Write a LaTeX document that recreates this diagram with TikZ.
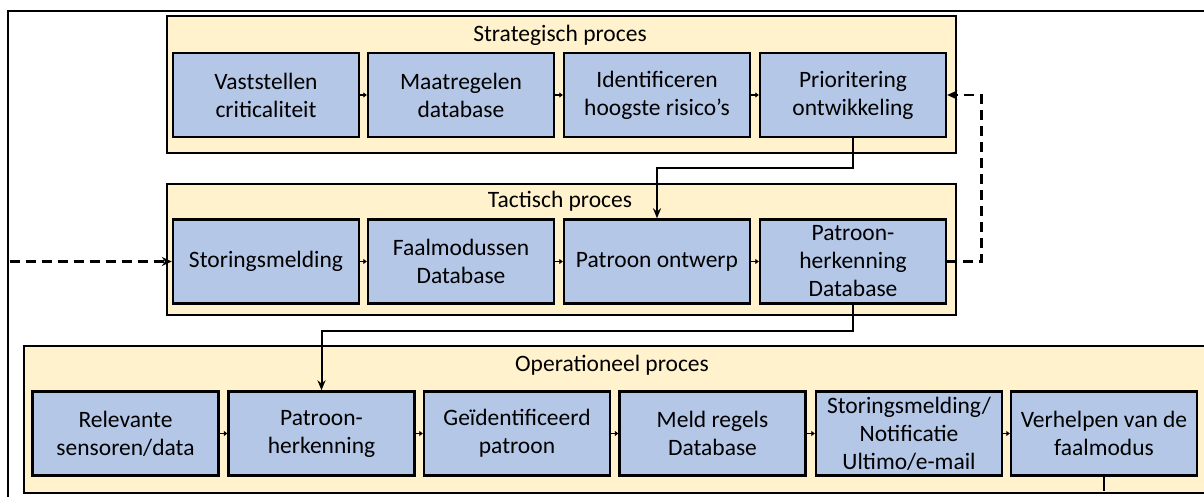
\documentclass[tikz,border=0pt]{standalone}
\usepackage{fontspec}
\setmainfont{Carlito}
\usetikzlibrary{arrows.meta}
\definecolor{contfill}{HTML}{FFF2CC}
\definecolor{boxfill}{HTML}{B4C7E7}
\begin{document}
\begin{tikzpicture}[x=1pt,y=-1pt,
  container/.style={draw=black, line width=2.4pt, fill=contfill, inner sep=0pt, anchor=north west},
  procbox/.style={draw=black, line width=2.4pt, fill=boxfill, inner sep=0pt, align=center,
    minimum width=186pt, minimum height=84pt, font=\fontsize{23.5}{28}\selectfont},
  titletext/.style={font=\fontsize{23.5}{28}\selectfont, inner sep=0pt},
  flow/.style={line width=1.2pt, -{Triangle[length=3.5pt,width=5pt]}},
  link/.style={line width=2pt, -{Stealth[length=10pt,width=8pt]}},
  dashlink/.style={line width=2.6pt, dash pattern=on 10pt off 6pt, -{Stealth[length=10pt,width=9pt]}},
  stub/.style={line width=2pt}
]
\useasboundingbox (0,0) rectangle (1204,496);
\clip (0,0) rectangle (1204,496);
\fill[white] (0,0) rectangle (1204,496);
% outer frame (cropped)
\coordinate (frameA) at (8,600);
\coordinate (frameB) at (8,11);
\coordinate (frameC) at (1300,11);
\draw[line width=1.3pt] (frameA) -- (frameB) -- (frameC);

% containers
\node[container, minimum width=789pt, minimum height=137pt] (strat) at (166,15) {};
\node[container, minimum width=789pt, minimum height=131pt] (tact) at (166,183) {};
\node[container, minimum width=1190pt, minimum height=147pt] (oper) at (23,345) {};

\node[titletext] (stratT) at (560,35) {Strategisch proces};
\node[titletext] (tactT) at (560,201) {Tactisch proces};
\node[titletext] (operT) at (612,365) {Operationeel proces};

% strategic boxes
\node[procbox] (s1) at (266,95) {Vaststellen\\criticaliteit};
\node[procbox] (s2) at (461,95) {Maatregelen\\database};
\node[procbox] (s3) at (657,95) {Identificeren\\hoogste risico’s};
\node[procbox] (s4) at (853,95) {Prioritering\\ontwikkeling};

% tactical boxes
\node[procbox] (t1) at (266,261.5) {Storingsmelding};
\node[procbox] (t2) at (461,261.5) {Faalmodussen\\Database};
\node[procbox] (t3) at (657,261.5) {Patroon ontwerp};
\node[procbox] (t4) at (853,261.5) {Patroon-\\herkenning\\Database};

% operational boxes
\node[procbox] (o1) at (125.5,433.5) {Relevante\\sensoren/data};
\node[procbox] (o2) at (321.5,433.5) {Patroon-\\herkenning};
\node[procbox] (o3) at (517,433.5) {Geïdentificeerd\\patroon};
\node[procbox] (o4) at (712.5,433.5) {Meld regels\\Database};
\node[procbox] (o5) at (909,433.5) {Storingsmelding/\\Notificatie\\Ultimo/e-mail};
\node[procbox] (o6) at (1104,433.5) {Verhelpen van de\\faalmodus};

% small flow arrows
\draw[flow] (s1.east) -- (s2.west);
\draw[flow] (s2.east) -- (s3.west);
\draw[flow] (s3.east) -- (s4.west);
\draw[flow] (t1.east) -- (t2.west);
\draw[flow] (t2.east) -- (t3.west);
\draw[flow] (t3.east) -- (t4.west);
\draw[flow] (o1.east) -- (o2.west);
\draw[flow] (o2.east) -- (o3.west);
\draw[flow] (o3.east) -- (o4.west);
\draw[flow] (o4.east) -- (o5.west);
\draw[flow] (o5.east) -- (o6.west);

% connectors between levels
\draw[link] (s4.south) -- (s4.south |- 0,168) -| (t3.north);
\draw[link] (t4.south) -- (t4.south |- 0,331) -| (o2.north);

% feedback dashed connectors
\draw[dashlink] (t4.east) -- ++(34,0) |- (s4.east);
\coordinate (loopIn) at (8,500);
\draw[dashlink] (loopIn) |- (t1.west);

% stub leaving the last box
\coordinate (stubEnd) at (1104,491);
\draw[stub] (o6.south) -- (stubEnd);
\end{tikzpicture}
\end{document}
